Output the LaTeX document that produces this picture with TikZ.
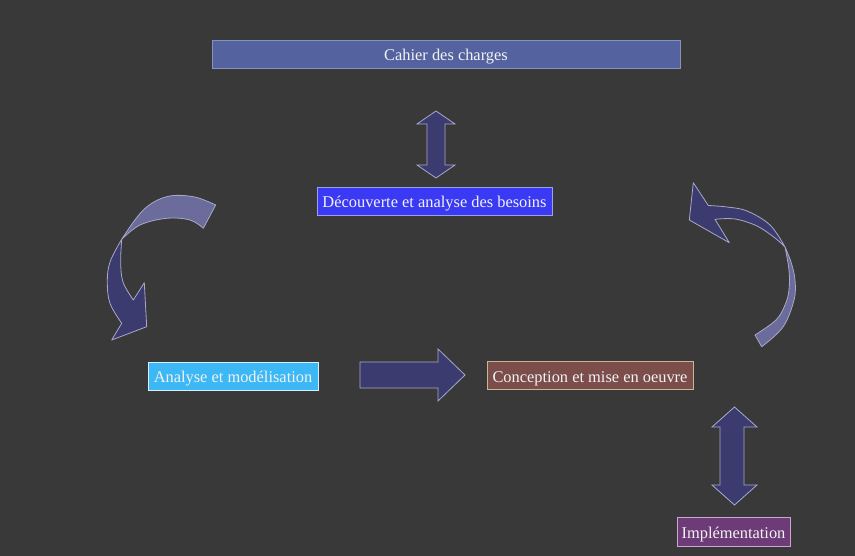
\documentclass[tikz,border=0pt]{standalone}
\usepackage{fontspec}
\setmainfont{Liberation Serif}
\definecolor{bgc}{HTML}{393939}
\definecolor{arrf}{HTML}{3B3B70}
\definecolor{arrl}{HTML}{6B6B9C}
\definecolor{arrd}{HTML}{A8A8C8}
\definecolor{cahf}{HTML}{5463A0}
\definecolor{cahd}{HTML}{8A92BC}
\definecolor{decf}{HTML}{3A3AF5}
\definecolor{decd}{HTML}{A0A0E8}
\definecolor{anaf}{HTML}{3BB8F5}
\definecolor{anad}{HTML}{D8F0FF}
\definecolor{conf}{HTML}{7B4E4B}
\definecolor{cond}{HTML}{C8B890}
\definecolor{impf}{HTML}{6D3B78}
\definecolor{impd}{HTML}{C8A8D0}
\definecolor{txt}{HTML}{F2F2F2}
\tikzset{
  box/.style={draw, line width=0.8pt, text=txt, inner sep=0pt, minimum height=28pt,
    text height=16pt, text depth=2pt,
    font=\fontsize{16.4}{19}\selectfont, anchor=center},
  blockarrow/.style={fill=arrf, draw=arrd, line width=0.8pt, line join=miter},
}
\begin{document}
\begin{tikzpicture}[x=1pt,y=-1pt]
\fill[bgc] (0,0) rectangle (855,556);
\useasboundingbox (0,0) rectangle (855,556);

% boxes
\node[box, fill=cahf, draw=cahd, minimum width=468pt] (cah) at (446,54) {Cahier des charges};
\node[box, fill=decf, draw=decd, minimum width=235pt] (dec) at (434.5,201) {Découverte et analyse des besoins};
\node[box, fill=anaf, draw=anad, minimum width=170pt] (ana) at (233,376) {Analyse et modélisation};
\node[box, fill=conf, draw=cond, minimum width=206pt] (con) at (590,375) {Conception et mise en oeuvre};
\node[box, fill=impf, draw=impd, minimum width=113pt, minimum height=29pt] (imp) at (733.5,531.5) {Implémentation};

% double arrow top
\draw[blockarrow] (436,111) -- (455,124) -- (445,124) -- (445,165) -- (455,165) -- (436,178)
  -- (417,165) -- (427,165) -- (427,124) -- (417,124) -- cycle;

% double arrow bottom right
\draw[blockarrow] (734.5,407) -- (757,427) -- (744,427) -- (744,485) -- (757,485) -- (734.5,505)
  -- (712,485) -- (720,485) -- (720,427) -- (712,427) -- cycle;

% right block arrow
\draw[blockarrow] (360,362) -- (438,362) -- (438,349) -- (465,375) -- (438,401) -- (438,388)
  -- (360,388) -- cycle;

% left curved arrow
\draw[fill=arrl, draw=arrd, line width=0.8pt, line join=round]
  plot[smooth, tension=0.6] coordinates {(121.7,239.3) (140,225) (166.7,218.3) (190,220) (203.3,228.3)}
  -- (215.7,205)
  -- plot[smooth, tension=0.6] coordinates {(215.7,205) (193.3,196.7) (166.7,196.7) (143.3,210) (121.7,239.3)}
  -- cycle;
\draw[fill=arrf, draw=arrd, line width=0.8pt, line join=round]
  plot[smooth, tension=0.6] coordinates {(121.7,239.3) (110,262) (107.3,282) (110,303.3) (121.7,323.3)}
  -- (111.7,340) -- (146.7,326.7) -- (144.3,282.7) -- (133.3,300)
  -- plot[smooth, tension=0.6] coordinates {(133.3,300) (123,282) (120.7,262) (121.7,239.3)}
  -- cycle;

% right curved arrow
\draw[fill=arrl, draw=arrd, line width=0.8pt, line join=round]
  plot[smooth, tension=0.6] coordinates {(755,335) (776,320) (785,305) (789,290) (789,270) (785,247)}
  -- plot[smooth, tension=0.6] coordinates {(785,247) (791,262) (795,280) (794,300) (783,327) (761.7,346.7)}
  -- cycle;
\draw[fill=arrf, draw=arrd, line width=0.8pt, line join=round]
  plot[smooth, tension=0.6] coordinates {(785,247) (770,225) (747,211) (727,207) (708.3,205.5)}
  -- (693.3,182.7) -- (689.3,220) -- (729.3,242.7) -- (715,219.3)
  -- plot[smooth, tension=0.6] coordinates {(715,219.3) (735,219) (757,226) (775,238) (785,247)}
  -- cycle;
\end{tikzpicture}
\end{document}
